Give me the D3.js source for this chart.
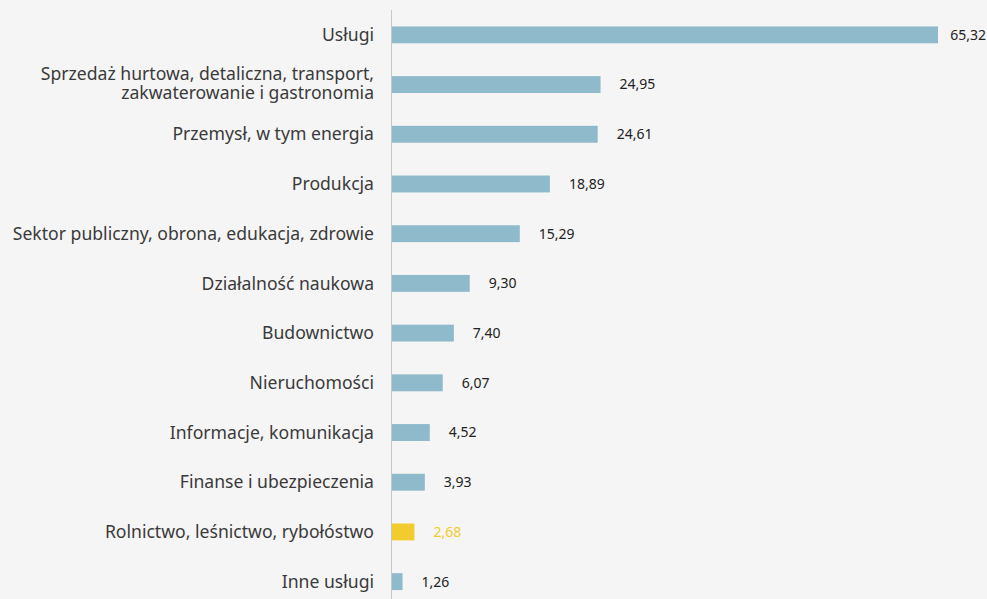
<!DOCTYPE html>
<meta charset="utf-8">
<head>
  <title>Sektory</title>
</head>
<style>
  body { margin: 0; background: #f5f5f5; }
  .cat { font: 17.6px "Noto Sans", sans-serif; fill: #3a3a3a; }
  .val { font: 14px "Noto Sans", sans-serif; fill: #222; }
</style>
<body>
<script src="https://cdn.jsdelivr.net/npm/d3@7"></script>
<script>
var categories = [
  "Usługi",
  "Sprzedaż hurtowa, detaliczna, transport,|zakwaterowanie i gastronomia",
  "Przemysł, w tym energia",
  "Produkcja",
  "Sektor publiczny, obrona, edukacja, zdrowie",
  "Działalność naukowa",
  "Budownictwo",
  "Nieruchomości",
  "Informacje, komunikacja",
  "Finanse i ubezpieczenia",
  "Rolnictwo, leśnictwo, rybołóstwo",
  "Inne usługi"
];
var values = [65.32, 24.95, 24.61, 18.89, 15.29, 9.30, 7.40, 6.07, 4.52, 3.93, 2.68, 1.26];
var highlight = "Rolnictwo, leśnictwo, rybołóstwo";

var width = 987, height = 599,
    x0 = 392;

var svg = d3.select("body").append("svg")
    .attr("width", width)
    .attr("height", height)
    .style("display", "block")
    .style("background", "#f5f5f5");

var x = d3.scaleLinear().domain([0, 65.32]).range([x0, 938]);
var y = d3.scaleBand().domain(categories).range([10, 606.5]).paddingInner(0.66).paddingOuter(0.33);

var data = categories.map(function(c, i) { return {cat: c, v: values[i]}; });

// bars
svg.selectAll(".bar")
    .data(data)
  .enter().append("rect")
    .attr("class", "bar")
    .attr("x", x(0))
    .attr("y", function(d) { return y(d.cat); })
    .attr("width", function(d) { return x(d.v) - x(0); })
    .attr("height", y.bandwidth())
    .attr("fill", function(d) { return d.cat === highlight ? "#f2cb2e" : "#8fbacb"; });

// axis line
svg.append("line")
    .attr("x1", x0 - 0.5).attr("x2", x0 - 0.5)
    .attr("y1", 10).attr("y2", height)
    .attr("stroke", "#c8c8c8")
    .attr("stroke-width", 1);

// category labels (| marks a line break)
var cats = svg.selectAll(".cat")
    .data(data)
  .enter().append("text")
    .attr("class", "cat")
    .attr("text-anchor", "end")
    .attr("x", 374)
    .attr("y", function(d) { return y(d.cat) + y.bandwidth() / 2; });

cats.each(function(d) {
  var lines = d.cat.split("|");
  var t = d3.select(this);
  lines.forEach(function(l, i) {
    t.append("tspan")
      .attr("x", 374)
      .attr("dy", i === 0 ? ((0.35 - (lines.length - 1) * 0.6) + "em") : "1.08em")
      .text(l);
  });
});

// value labels
svg.selectAll(".val")
    .data(data)
  .enter().append("text")
    .attr("class", "val")
    .attr("x", function(d) { return x(d.v) + 19; })
    .attr("y", function(d) { return y(d.cat) + y.bandwidth() / 2; })
    .attr("dy", "0.35em")
    .style("fill", function(d) { return d.cat === highlight ? "#f2cb2e" : "#222"; })
    .text(function(d) { return d3.format(".2f")(d.v).replace(".", ","); })
    .each(function() {
      // keep labels inside the picture
      var len = this.getComputedTextLength();
      var xs = +d3.select(this).attr("x");
      if (xs + len > width - 1) d3.select(this).attr("x", width - 1 - len);
    });
</script>
</body>
